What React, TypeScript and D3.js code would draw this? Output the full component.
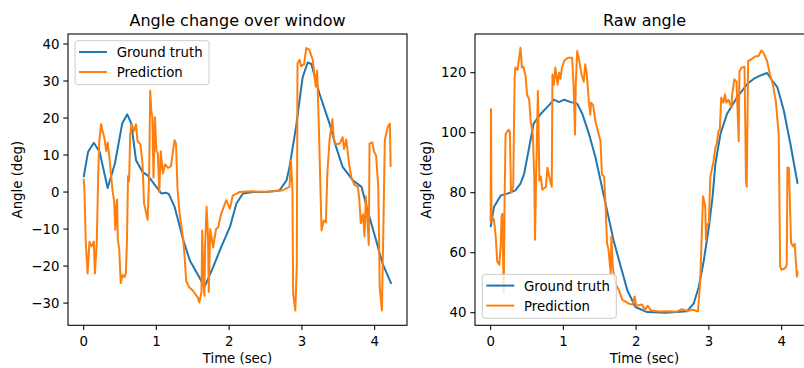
import React from "react";
import * as d3 from "d3";

// time ticks shared by both panels
const timeTicks = [0, 1, 2, 3, 4];
const changeTicks = [-30, -20, -10, 0, 10, 20, 30, 40];
const rawTicks = [40, 60, 80, 100, 120];
const seriesNames = ["Ground truth", "Prediction"];

// [time (sec), angle (deg)]
const changeTruth = [
  [0, 4.0], [0.06, 10.8], [0.14, 13.3], [0.22, 10.8], [0.33, 1.1], [0.43, 7.7],
  [0.53, 18.5], [0.6, 21], [0.655, 18.5], [0.72, 8.6], [0.81, 5.4], [0.88, 4.5],
  [1.0, 1.4], [1.07, -0.4], [1.13, -0.2], [1.17, -0.5], [1.25, -4], [1.37, -13],
  [1.46, -18.5], [1.59, -23], [1.66, -25.7], [1.78, -20.3], [1.89, -14.9],
  [2.01, -9.5], [2.1, -3.1], [2.19, -0.4], [2.33, 0], [2.51, 0], [2.69, 0.4],
  [2.79, 3.2], [2.83, 6.8], [2.92, 17.6], [3.01, 31], [3.08, 35], [3.13, 34.6],
  [3.24, 26.7], [3.38, 18.5], [3.47, 12.2], [3.56, 6.8], [3.7, 3.2], [3.82, 1.4],
  [3.89, -4], [4.02, -13], [4.11, -19.4], [4.23, -24.8],
];

const changePred = [
  [0, 3.6], [0.01, 1], [0.03, -13.8], [0.055, -22], [0.08, -13.4], [0.11, -14.7],
  [0.14, -13.4], [0.155, -22], [0.18, -13.8], [0.2, 4.3], [0.215, 13.8], [0.24, 18.3],
  [0.26, 16.5], [0.285, 14.7], [0.31, 11.1], [0.33, 13.4], [0.355, 9.3], [0.375, 4.8],
  [0.4, 0], [0.42, -2.5], [0.435, -10.2], [0.445, -4.8], [0.46, -2], [0.47, -12.9],
  [0.49, -15.6], [0.51, -24.6], [0.535, -22.4], [0.56, -23], [0.58, -22], [0.595, -13.8],
  [0.61, 4.3], [0.625, 3], [0.64, 15.6], [0.66, 18.3], [0.69, 16.5], [0.72, 18.3],
  [0.74, 13.8], [0.78, 12.9], [0.81, 7.5], [0.83, -3], [0.88, -7.5], [0.9, 4.3],
  [0.915, 27.4], [0.93, 22], [0.945, 20.2], [0.96, 3.9], [0.98, 20.2], [1.0, 11.1],
  [1.02, 10.4], [1.04, 0], [1.06, 11], [1.09, 5], [1.12, 7.5], [1.16, 6.5], [1.2, 7],
  [1.23, 11.3], [1.25, 14], [1.27, 13], [1.29, 1], [1.32, -5.9], [1.37, -13],
  [1.39, -18], [1.41, -24], [1.45, -25.7], [1.5, -26.6], [1.57, -28.5], [1.59, -29.8],
  [1.62, -27], [1.63, -10.4], [1.65, -25], [1.66, -28], [1.67, -14.9], [1.69, -4],
  [1.71, -12], [1.72, -27], [1.74, -10], [1.78, -15], [1.82, -10], [1.85, -9.5],
  [1.89, -5.9], [1.96, -2.2], [2.01, -4.5], [2.05, -0.9], [2.1, -0.5], [2.14, 0],
  [2.3, 0.2], [2.5, 0.1], [2.65, 0.3], [2.74, 0.5], [2.83, 1.4], [2.85, 8.6],
  [2.87, 1], [2.88, -27.5], [2.91, -32], [2.93, -20], [2.94, 34.8], [2.97, 35.7],
  [2.99, 34], [3.03, 34.5], [3.06, 38.9], [3.1, 38.5], [3.15, 35.7], [3.19, 28.5],
  [3.21, 32.8], [3.23, 20], [3.27, -10.4], [3.3, -7.7], [3.33, -8.2], [3.35, 5],
  [3.38, 14], [3.42, 19.7], [3.44, 13.8], [3.47, 12.9], [3.52, 13.1], [3.56, 14.8],
  [3.58, 11.6], [3.61, 14.2], [3.65, 7.5], [3.68, 4], [3.72, 2], [3.77, 1.4],
  [3.79, -2.2], [3.81, -8.4], [3.84, -6], [3.86, -12], [3.88, -1.2], [3.92, -14.3],
  [3.93, 13.1], [3.97, 13.4], [3.99, 11], [4.02, 9.9], [4.05, 1.4], [4.07, -25.7],
  [4.1, -32], [4.12, -10], [4.14, 14], [4.18, 17.6], [4.21, 18.5], [4.22, 6.8],
];

const rawTruth = [
  [0, 68.5], [0.045, 75.2], [0.14, 79.1], [0.23, 79.7], [0.34, 80.8], [0.41, 83],
  [0.46, 86.3], [0.53, 95.2], [0.59, 103], [0.69, 106.3], [0.8, 109.1], [0.87, 111],
  [0.94, 110.2], [1.01, 111], [1.1, 110.2], [1.19, 109.7], [1.26, 106.3], [1.35, 99.7],
  [1.44, 91.9], [1.51, 84.1], [1.53, 81.9], [1.6, 74.1], [1.69, 64.1], [1.79, 55.2],
  [1.88, 47.4], [1.99, 41.9], [2.15, 40.2], [2.41, 40.0], [2.7, 40.5], [2.79, 43],
  [2.86, 48.5], [2.93, 57.4], [3.0, 68.5], [3.05, 78.5], [3.09, 89.7], [3.16, 99.7],
  [3.25, 106.3], [3.39, 111.9], [3.53, 116.3], [3.62, 118], [3.71, 119.1], [3.8, 119.9],
  [3.87, 117.4], [3.94, 115.2], [4.03, 107.4], [4.12, 96.3], [4.22, 83],
];

const rawPred = [
  [0, 69.9], [0.005, 107.8], [0.012, 72], [0.045, 71], [0.07, 65.4], [0.09, 57.1],
  [0.12, 56], [0.14, 63.2], [0.15, 72], [0.16, 73], [0.18, 46.5], [0.19, 74],
  [0.205, 99.4], [0.23, 100.5], [0.25, 101], [0.265, 100], [0.28, 80], [0.31, 82],
  [0.33, 118.3], [0.34, 121.7], [0.37, 121], [0.41, 128.3], [0.43, 121.7], [0.45, 122],
  [0.48, 119], [0.5, 112.8], [0.53, 111], [0.55, 103.9], [0.58, 99.4], [0.6, 85],
  [0.61, 64.3], [0.625, 85], [0.65, 113.9], [0.67, 84], [0.69, 85.4], [0.71, 81],
  [0.76, 82], [0.78, 88.3], [0.8, 86], [0.82, 83.9], [0.84, 82], [0.85, 119.4],
  [0.87, 116], [0.89, 121.7], [0.92, 116], [0.94, 120], [0.96, 118], [0.98, 121.7],
  [1.01, 123.9], [1.03, 124.4], [1.07, 125], [1.12, 125], [1.14, 116], [1.16, 99.4],
  [1.17, 116], [1.19, 127.2], [1.21, 125], [1.25, 119.4], [1.28, 117], [1.3, 122.8],
  [1.32, 120], [1.35, 110.5], [1.37, 106], [1.38, 110], [1.41, 109], [1.44, 103.9],
  [1.47, 101], [1.51, 97.2], [1.53, 86.1], [1.56, 85.4], [1.58, 75.4], [1.6, 63.2],
  [1.62, 61], [1.65, 53.2], [1.66, 65.4], [1.68, 55], [1.71, 49.9], [1.76, 47.7],
  [1.81, 44.3], [1.85, 43.8], [1.9, 43], [1.95, 42.7], [1.98, 45.4], [2.0, 42.3],
  [2.08, 42.7], [2.12, 41], [2.16, 42.3], [2.2, 40.8], [2.31, 40.4], [2.46, 40.5],
  [2.55, 40.3], [2.63, 41.2], [2.7, 40.6], [2.78, 41], [2.85, 40.4], [2.88, 49.9],
  [2.92, 78.8], [2.95, 75.4], [2.96, 64.3], [2.97, 69], [3.0, 70], [3.02, 85.4],
  [3.06, 90], [3.09, 95], [3.11, 96.4], [3.13, 100.5], [3.15, 101], [3.17, 111.7],
  [3.2, 110], [3.22, 112.8], [3.24, 110], [3.27, 111], [3.31, 108.3], [3.32, 112.8],
  [3.35, 117.8], [3.38, 117], [3.41, 97.2], [3.42, 120.5], [3.45, 121.7], [3.49, 122],
  [3.51, 83.9], [3.52, 82], [3.54, 123.9], [3.58, 124.4], [3.64, 125.5], [3.68, 125.5],
  [3.72, 127.4], [3.75, 126.7], [3.8, 123.9], [3.84, 119.4], [3.88, 116], [3.92, 110.5],
  [3.96, 99.4], [3.98, 55.4], [4.0, 54.3], [4.05, 54.9], [4.07, 56], [4.08, 88.3],
  [4.1, 88.3], [4.13, 63.2], [4.16, 62.1], [4.18, 63], [4.21, 52.1], [4.22, 54],
];

const BLUE = "#1f77b4";
const ORANGE = "#ff7f0e";
const FONT = "DejaVu Sans, sans-serif";
const TICK_FS = 13.3;

const fmt = (v: number) => (v < 0 ? "\u2212" + Math.abs(v) : String(v));

const Legend = ({ x, y }) => (
  <g transform={`translate(${x}, ${y})`}>
    <rect x={0} y={0} width={134} height={44} rx={2.7} fill="white" fillOpacity={0.8} stroke="#cccccc" strokeWidth={1} />
    {seriesNames.map((name, i) => (
      <g key={name} transform={`translate(0, ${11.3 + i * 20})`}>
        <line x1={4} x2={32} y1={0} y2={0} stroke={i === 0 ? BLUE : ORANGE} strokeWidth={2} />
        <text x={41.7} y={5.3} fontSize={TICK_FS} fontFamily={FONT} fill="#000">{name}</text>
      </g>
    ))}
  </g>
);

const Panel = ({ left, title, truth, pred, yDomain, yTicks, legendPos, labelX }) => {
  const top = 34, bottom = 325.3, width = 339;
  const x = d3.scaleLinear().domain([-0.215, 4.445]).range([left, left + width]);
  const y = d3.scaleLinear().domain(yDomain).range([bottom, top]);
  const line = d3.line().x(d => x(d[0])).y(d => y(d[1]));
  const right = left + width;

  return (
    <g>
      <text x={(left + right) / 2} y={26} textAnchor="middle" fontSize={16} fontFamily={FONT} fill="#000">{title}</text>
      <path d={line(truth)} fill="none" stroke={BLUE} strokeWidth={2} strokeLinejoin="round" />
      <path d={line(pred)} fill="none" stroke={ORANGE} strokeWidth={2} strokeLinejoin="round" />
      {/* spines */}
      <rect x={left} y={top} width={width} height={bottom - top} fill="none" stroke="#000" strokeWidth={1.07} />
      {timeTicks.map(t => (
        <g key={t} transform={`translate(${x(t)}, ${bottom})`}>
          <line y1={0} y2={4.7} stroke="#000" strokeWidth={1.07} />
          <text y={20.5} textAnchor="middle" fontSize={TICK_FS} fontFamily={FONT} fill="#000">{fmt(t)}</text>
        </g>
      ))}
      {yTicks.map(v => (
        <g key={v} transform={`translate(${left}, ${y(v)})`}>
          <line x1={-4.7} x2={0} stroke="#000" strokeWidth={1.07} />
          <text x={-8.6} dy="0.36em" textAnchor="end" fontSize={TICK_FS} fontFamily={FONT} fill="#000">{fmt(v)}</text>
        </g>
      ))}
      <text x={(left + right) / 2} y={363} textAnchor="middle" fontSize={TICK_FS} fontFamily={FONT} fill="#000">Time (sec)</text>
      <text transform={`translate(${labelX}, ${(top + bottom) / 2}) rotate(-90)`} textAnchor="middle" fontSize={TICK_FS} fontFamily={FONT} fill="#000">Angle (deg)</text>
      <Legend x={legendPos[0]} y={legendPos[1]} />
    </g>
  );
};

export default function App() {
  return (
    <div style={{ position: "fixed", left: 0, top: 0 }}>
      <svg width={804} height={368} style={{ display: "block", background: "white" }}>
        <Panel left={68} title="Angle change over window" truth={changeTruth} pred={changePred}
          yDomain={[-36.0, 42.7]} yTicks={changeTicks} legendPos={[75, 40.7]} labelX={22} />
        <Panel left={475} title="Raw angle" truth={rawTruth} pred={rawPred}
          yDomain={[35.8, 132.9]} yTicks={rawTicks} legendPos={[482.3, 274.3]} labelX={431} />
      </svg>
    </div>
  );
}
